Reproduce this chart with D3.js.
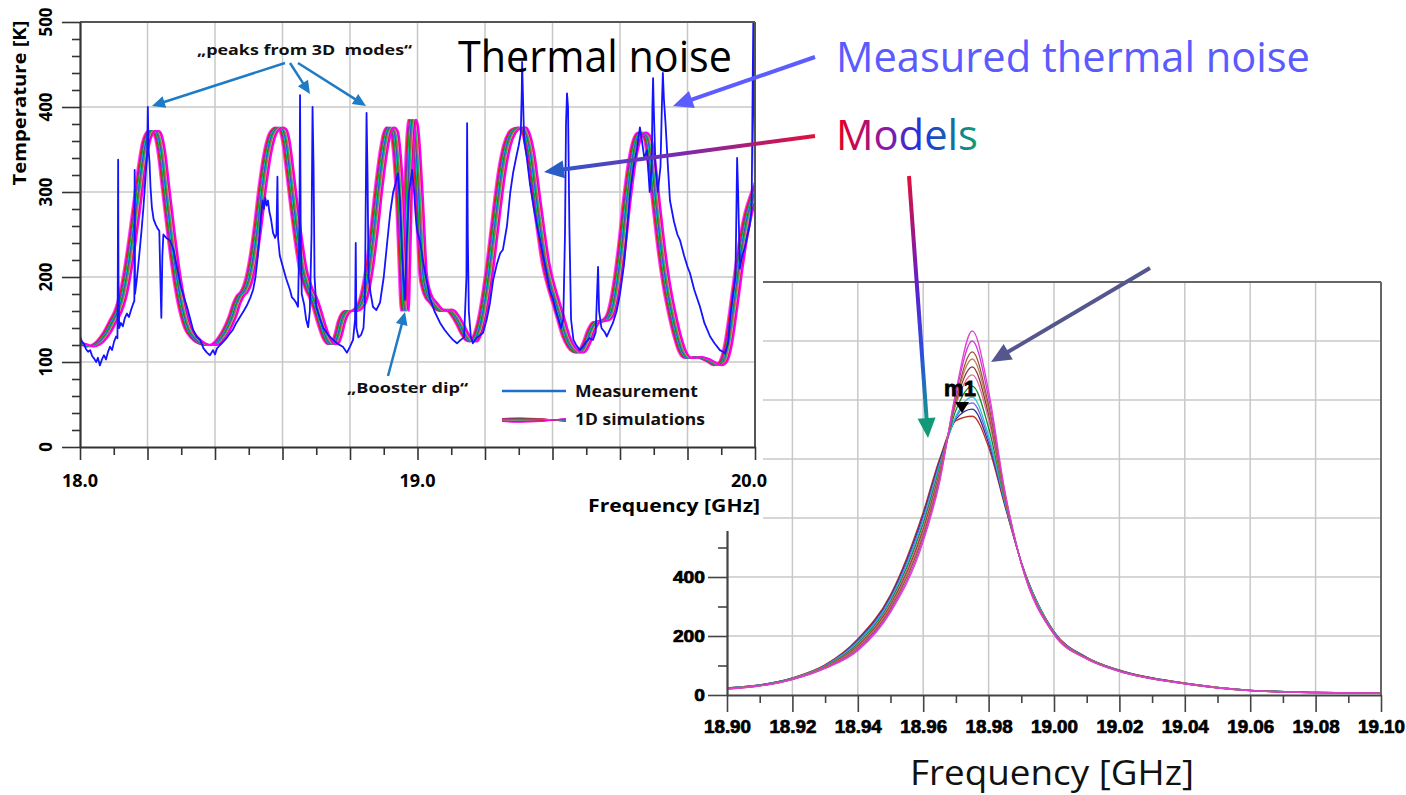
<!DOCTYPE html>
<html><head><meta charset="utf-8">
<script src="https://cdn.jsdelivr.net/npm/d3@7"></script>
<style>body{margin:0;background:#fff}svg{display:block}</style>
</head><body>
<svg id="c" width="1406" height="795"></svg>
<script>
// ===== DATA =====
// Left chart: tick labels
const leftXMajor = [18.0,18.2,18.4,18.6,18.8,19.0,19.2,19.4,19.6,19.8,20.0];
const leftXLabels = [18.0,19.0,20.0];
const leftYMajor = [0,100,200,300,400,500];

// Left chart: measured thermal noise [GHz, K]
const measurement = [
[18.000,130],[18.006,124],[18.012,121],[18.018,115],[18.024,112],[18.030,114],[18.036,107],[18.042,104],[18.048,100],[18.053,105],[18.059,96],[18.065,103],[18.071,108],[18.077,103],[18.083,112],[18.089,118],[18.095,114],[18.101,124],[18.107,130],[18.111,128],[18.112,200],[18.113,338],[18.114,200],[18.116,140],[18.121,146],[18.127,142],[18.133,152],[18.139,157],[18.145,153],[18.151,161],[18.157,168],[18.161,172],[18.162,326],[18.163,180],[18.168,196],[18.173,215],[18.178,236],[18.183,258],[18.188,282],[18.192,305],[18.196,328],[18.199,345],[18.201,400],[18.203,350],[18.206,335],[18.209,305],[18.213,282],[18.218,268],[18.224,262],[18.230,257],[18.235,254],[18.238,200],[18.241,152],[18.244,224],[18.247,250],[18.256,246],[18.267,243],[18.277,232],[18.288,210],[18.298,190],[18.309,175],[18.317,165],[18.327,150],[18.335,138],[18.345,130],[18.356,126],[18.366,116],[18.376,111],[18.385,108],[18.394,114],[18.400,109],[18.406,116],[18.415,120],[18.425,124],[18.436,129],[18.445,134],[18.453,138],[18.463,146],[18.474,153],[18.485,160],[18.495,167],[18.505,176],[18.513,185],[18.520,200],[18.527,225],[18.533,255],[18.537,275],[18.541,290],[18.545,280],[18.549,293],[18.553,284],[18.557,290],[18.561,277],[18.566,268],[18.572,252],[18.578,246],[18.582,250],[18.585,318],[18.587,245],[18.592,225],[18.601,212],[18.611,198],[18.622,185],[18.628,176],[18.633,174],[18.640,170],[18.646,165],[18.650,250],[18.652,414],[18.654,250],[18.657,180],[18.664,168],[18.670,150],[18.676,141],[18.681,160],[18.686,250],[18.689,400],[18.692,330],[18.695,200],[18.700,165],[18.710,152],[18.720,141],[18.735,132],[18.750,126],[18.765,121],[18.779,118],[18.791,111],[18.800,118],[18.809,126],[18.815,150],[18.817,240],[18.819,140],[18.825,129],[18.833,132],[18.840,140],[18.844,170],[18.846,260],[18.849,393],[18.852,320],[18.855,200],[18.861,181],[18.868,165],[18.878,161],[18.889,170],[18.900,200],[18.910,240],[18.919,275],[18.928,300],[18.935,310],[18.942,322],[18.948,290],[18.953,240],[18.958,200],[18.963,173],[18.968,240],[18.975,300],[18.984,326],[18.990,300],[18.995,270],[19.000,252],[19.007,243],[19.015,222],[19.025,200],[19.037,175],[19.050,160],[19.067,146],[19.080,138],[19.096,130],[19.105,126],[19.117,122],[19.128,126],[19.138,129],[19.145,200],[19.147,381],[19.149,250],[19.152,160],[19.158,130],[19.164,122],[19.175,128],[19.186,132],[19.194,134],[19.205,150],[19.215,170],[19.224,196],[19.235,215],[19.245,228],[19.253,232],[19.265,260],[19.275,300],[19.283,322],[19.292,340],[19.300,355],[19.306,369],[19.309,420],[19.310,453],[19.312,420],[19.316,360],[19.324,340],[19.333,310],[19.345,280],[19.355,258],[19.363,244],[19.372,225],[19.382,205],[19.392,185],[19.401,175],[19.410,160],[19.418,150],[19.425,140],[19.432,150],[19.437,250],[19.440,380],[19.443,416],[19.446,400],[19.450,260],[19.455,150],[19.462,126],[19.470,120],[19.481,114],[19.490,118],[19.500,124],[19.510,128],[19.520,126],[19.528,135],[19.532,180],[19.535,212],[19.538,160],[19.545,140],[19.555,135],[19.561,130],[19.570,138],[19.579,146],[19.590,160],[19.600,180],[19.612,215],[19.622,260],[19.630,300],[19.640,330],[19.650,350],[19.659,376],[19.665,360],[19.672,340],[19.680,349],[19.688,300],[19.694,330],[19.696,400],[19.698,434],[19.700,400],[19.705,330],[19.712,300],[19.720,330],[19.724,400],[19.727,440],[19.730,410],[19.735,380],[19.742,330],[19.748,290],[19.760,265],[19.770,250],[19.778,243],[19.790,225],[19.800,212],[19.807,205],[19.820,185],[19.837,165],[19.850,146],[19.867,130],[19.880,122],[19.896,114],[19.905,112],[19.911,110],[19.920,122],[19.926,150],[19.935,180],[19.942,200],[19.945,280],[19.947,340],[19.950,300],[19.955,210],[19.962,225],[19.970,235],[19.978,250],[19.985,262],[19.990,280],[19.993,420],[19.995,502],[19.997,420],[20.000,300]
];

// Left chart: 1D simulation (centre of the bundle) [GHz, K]
const simBase = [
[17.970,124],[18.000,122],[18.015,120],[18.030,118],[18.045,120],[18.059,124],[18.080,135],[18.100,150],[18.113,160],[18.125,175],[18.140,205],[18.155,245],[18.170,290],[18.185,335],[18.195,358],[18.205,369],[18.212,372],[18.222,372],[18.230,368],[18.240,350],[18.255,300],[18.270,250],[18.285,205],[18.300,170],[18.320,140],[18.340,128],[18.360,122],[18.380,120],[18.395,120],[18.410,124],[18.430,135],[18.450,152],[18.465,170],[18.475,178],[18.485,182],[18.495,190],[18.510,215],[18.525,255],[18.540,305],[18.555,345],[18.570,368],[18.580,374],[18.590,376],[18.600,374],[18.610,360],[18.620,330],[18.635,280],[18.650,235],[18.660,210],[18.670,195],[18.680,184],[18.690,176],[18.700,165],[18.715,145],[18.730,128],[18.745,121],[18.755,122],[18.765,132],[18.775,148],[18.785,157],[18.795,160],[18.810,160],[18.825,163],[18.840,175],[18.855,205],[18.870,250],[18.885,305],[18.900,350],[18.910,370],[18.920,376],[18.930,372],[18.940,340],[18.948,290],[18.955,220],[18.960,170],[18.963,160],[18.966,200],[18.972,300],[18.978,360],[18.984,385],[18.990,378],[18.998,340],[19.005,290],[19.010,250],[19.016,205],[19.025,185],[19.035,175],[19.046,170],[19.060,163],[19.076,160],[19.090,162],[19.100,160],[19.110,155],[19.125,145],[19.140,133],[19.155,125],[19.165,124],[19.175,130],[19.190,150],[19.205,185],[19.220,230],[19.235,280],[19.250,325],[19.265,355],[19.280,370],[19.295,375],[19.310,376],[19.320,370],[19.335,345],[19.350,300],[19.365,255],[19.380,215],[19.395,190],[19.410,170],[19.425,150],[19.440,130],[19.455,118],[19.470,112],[19.480,111],[19.490,114],[19.500,122],[19.515,138],[19.530,147],[19.545,148],[19.560,150],[19.575,160],[19.590,190],[19.605,235],[19.620,290],[19.635,335],[19.650,362],[19.665,370],[19.680,365],[19.695,330],[19.710,275],[19.725,225],[19.740,185],[19.755,155],[19.770,130],[19.785,112],[19.800,105],[19.815,105],[19.830,106],[19.850,104],[19.870,100],[19.890,96],[19.905,100],[19.920,120],[19.935,160],[19.950,205],[19.965,245],[19.980,275],[20.000,300],[20.030,330]
];
// frequency offsets of the individual 1D simulations [GHz]
const simShifts = [-0.012,-0.0095,-0.007,-0.0045,-0.002,0.000,0.002,0.0045,0.007,0.0095,0.012];
const simColors = ["#ff40ff","#ff1010","#d000d0","#00a000","#00c8c8","#2040ff","#a06030","#00c060","#ff70c0","#d00030","#ff00ff"];

// Right chart
const rightXTicks = [18.90,18.92,18.94,18.96,18.98,19.00,19.02,19.04,19.06,19.08,19.10];
const rightYTicks = [0,200,400,600,800,1000,1200,1400];
const rightFreq = [18.90,18.92,18.93,18.94,18.95,18.96,18.965,18.97,18.975,18.98,18.985,18.99,19.00,19.01,19.02,19.04,19.06,19.08,19.10];
const model0  = [20,52,90,150,280,520,720,1030,1234,1030,690,445,205,122,80,38,15,8,6];
const model1  = [20,53,91,154,286,530,728,1020,1200,1008,685,446,206,123,80,38,15,8,6];
const model2  = [21,53,92,158,292,540,736,1005,1163,983,680,446,207,123,81,38,15,8,6];
const model3  = [21,54,94,162,298,550,744,1000,1139,968,675,447,208,124,81,39,15,8,6];
const model4  = [22,54,95,166,304,560,752,993,1112,951,670,447,209,124,82,39,15,8,6];
const model5  = [22,55,96,170,310,570,760,984,1085,933,665,448,210,125,82,39,16,8,6];
const model6  = [22,56,97,174,316,580,768,965,1047,906,660,448,211,126,82,39,16,9,6];
const model7  = [23,56,98,178,322,590,776,945,1010,879,655,449,212,126,83,39,16,9,6];
const model8  = [23,57,100,182,328,600,784,941,990,866,650,449,213,127,83,40,16,9,6];
const model9  = [24,57,101,186,334,610,792,935,969,853,645,450,214,127,84,40,16,9,6];
const model10 = [24,58,102,190,340,620,800,930,945,840,640,450,215,128,84,40,16,9,6];
const rightModels = [model0,model1,model2,model3,model4,model5,model6,model7,model8,model9,model10];
const rightColors = ["#e040d0","#c838e0","#a0522d","#c08060","#8b3a3a","#e070a0","#0a8a2a","#20c8d0","#7060e8","#303090","#c03020"];

// ===== DRAW =====
const FONT_C = "'Open Sans','Noto Sans',sans-serif";
const FONT_A = "'Liberation Sans',Arial,sans-serif";
const svg = d3.select('#c');
const defs = svg.append('defs');

// ---------- right chart ----------
const xR = d3.scaleLinear().domain([18.90,19.10]).range([727,1381]);
const yR = d3.scaleLinear().domain([0,1400]).range([695,282]);
const gR = svg.append('g');
gR.selectAll(null).data(rightXTicks.slice(1,-1)).join('line')
  .attr('x1',d=>xR(d)).attr('x2',d=>xR(d)).attr('y1',yR(1400)).attr('y2',yR(0))
  .attr('stroke','#c8c8c8').attr('stroke-width',1.5);
gR.selectAll(null).data(rightYTicks.slice(1,-1)).join('line')
  .attr('x1',xR(18.90)).attr('x2',xR(19.10)).attr('y1',d=>yR(d)).attr('y2',d=>yR(d))
  .attr('stroke','#c8c8c8').attr('stroke-width',1.5);
const lineR = d3.line().x((d,i)=>xR(rightFreq[i])).y(d=>yR(d)).curve(d3.curveMonotoneX);
for (let k = rightModels.length-1; k >= 0; k--) {
  gR.append('path').attr('d',lineR(rightModels[k])).attr('fill','none')
    .attr('stroke',rightColors[k]).attr('stroke-width',1.3);
}
gR.append('line').attr('x1',xR(18.90)).attr('x2',xR(19.10)).attr('y1',yR(1400)).attr('y2',yR(1400)).attr('stroke','#666').attr('stroke-width',2);
gR.append('line').attr('x1',xR(19.10)).attr('x2',xR(19.10)).attr('y1',yR(1400)).attr('y2',yR(0)).attr('stroke','#666').attr('stroke-width',2);

function styleAxis(g, col, w){
  g.select('.domain').attr('stroke',col).attr('stroke-width',w);
  g.selectAll('.tick line').attr('stroke',col).attr('stroke-width',1.6);
}
const axRB = gR.append('g').attr('transform',`translate(0,${yR(0)})`)
  .call(d3.axisBottom(xR).tickValues(rightXTicks).tickSize(17).tickSizeOuter(0).tickFormat(d3.format('.2f')));
styleAxis(axRB,'#444',2.2);
axRB.selectAll('text').attr('y',38).attr('dy',0).attr('font-family',FONT_A).attr('font-weight','bold')
  .attr('font-size',18).attr('fill','#000').attr('stroke','#000').attr('stroke-width',0.7)
  .attr('textLength',47).attr('lengthAdjust','spacingAndGlyphs');
const axRBm = gR.append('g').attr('transform',`translate(0,${yR(0)})`)
  .call(d3.axisBottom(xR).tickValues(rightXTicks.slice(0,-1).map(d=>d+0.01)).tickSize(8).tickSizeOuter(0).tickFormat(''));
styleAxis(axRBm,'#444',0); axRBm.select('.domain').remove();
const axRL = gR.append('g').attr('transform',`translate(${xR(18.90)},0)`)
  .call(d3.axisLeft(yR).tickValues(rightYTicks).tickSize(19).tickSizeOuter(0).tickFormat(d3.format('d')));
styleAxis(axRL,'#444',2.2);
// labels above 400 lie under the left chart and are not visible in the reference
axRL.selectAll('.tick').filter(d=>d>400).select('text').remove();
axRL.selectAll('text').attr('x',-22).attr('font-family',FONT_A).attr('font-weight','bold')
  .attr('font-size',17).attr('fill','#000').attr('stroke','#000').attr('stroke-width',0.7)
  .attr('textLength',function(d){return String(d).length*10.7;}).attr('lengthAdjust','spacingAndGlyphs');
const axRLm = gR.append('g').attr('transform',`translate(${xR(18.90)},0)`)
  .call(d3.axisLeft(yR).tickValues(rightYTicks.slice(0,-1).map(d=>d+100)).tickSize(9).tickSizeOuter(0).tickFormat(''));
styleAxis(axRLm,'#444',0); axRLm.select('.domain').remove();

// m1 marker
gR.append('text').attr('x',960).attr('y',396).attr('text-anchor','middle').attr('font-family',FONT_A)
  .attr('font-weight','bold').attr('font-size',22).attr('fill','#000').attr('stroke','#000').attr('stroke-width',0.8).text('m1');
gR.append('polygon').attr('points','955,402 969,402 962,413').attr('fill','#000');

svg.append('text').attr('x',910).attr('y',785).attr('font-family',FONT_C).attr('font-size',35)
  .attr('fill','#111').attr('textLength',284).attr('lengthAdjust','spacingAndGlyphs').text('Frequency [GHz]');

// ---------- left chart ----------
const xL = d3.scaleLinear().domain([18,20]).range([80,755]);
const yL = d3.scaleLinear().domain([0,500]).range([447,22]);
const gL = svg.append('g');
gL.append('rect').attr('x',0).attr('y',0).attr('width',763).attr('height',531).attr('fill','#fff');
gL.selectAll(null).data(leftXMajor.slice(1,-1)).join('line')
  .attr('x1',d=>xL(d)).attr('x2',d=>xL(d)).attr('y1',yL(500)).attr('y2',yL(0))
  .attr('stroke','#c8c8c8').attr('stroke-width',1.5);
gL.selectAll(null).data(leftYMajor.slice(1,-1)).join('line')
  .attr('x1',xL(18)).attr('x2',xL(20)).attr('y1',d=>yL(d)).attr('y2',d=>yL(d))
  .attr('stroke','#c8c8c8').attr('stroke-width',1.5);
defs.append('clipPath').attr('id','clipL').append('rect')
  .attr('x',xL(18)).attr('y',yL(500)).attr('width',xL(20)-xL(18)).attr('height',yL(0)-yL(500));
const plotL = gL.append('g').attr('clip-path','url(#clipL)');
simShifts.forEach((s,i)=>{
  const ln = d3.line().x(d=>xL(d[0]+s)).y(d=>yL(d[1])).curve(d3.curveMonotoneX);
  plotL.append('path').attr('d',ln(simBase)).attr('fill','none').attr('stroke',simColors[i])
    .attr('stroke-width',(i===0||i===simShifts.length-1)?1.8:1.3);
});
const lineM = d3.line().x(d=>xL(d[0])).y(d=>yL(d[1]));
plotL.append('path').attr('d',lineM(measurement)).attr('fill','none').attr('stroke','#1414ff')
  .attr('stroke-width',1.8).attr('stroke-linejoin','round');

gL.append('line').attr('x1',xL(18)).attr('x2',xL(20)).attr('y1',yL(500)).attr('y2',yL(500)).attr('stroke','#555').attr('stroke-width',2);
gL.append('line').attr('x1',xL(20)).attr('x2',xL(20)).attr('y1',yL(500)).attr('y2',yL(0)).attr('stroke','#555').attr('stroke-width',2);

const axLB = gL.append('g').attr('transform',`translate(0,${yL(0)})`)
  .call(d3.axisBottom(xL).tickValues(leftXMajor).tickSize(13).tickSizeOuter(0).tickFormat(''));
styleAxis(axLB,'#333',2.2);
const axLBm = gL.append('g').attr('transform',`translate(0,${yL(0)})`)
  .call(d3.axisBottom(xL).tickValues(leftXMajor.slice(0,-1).map(d=>d+0.1)).tickSize(8).tickSizeOuter(0).tickFormat(''));
styleAxis(axLBm,'#333',0); axLBm.select('.domain').remove();
gL.selectAll(null).data(leftXLabels).join('text').attr('x',d=>d===20?xL(d)-6:xL(d)).attr('y',487).attr('text-anchor','middle')
  .attr('font-family',FONT_C).attr('font-weight','bold').attr('font-size',18).attr('fill','#000')
  .text(d3.format('.1f'));
const axLL = gL.append('g').attr('transform',`translate(${xL(18)},0)`)
  .call(d3.axisLeft(yL).tickValues(leftYMajor).tickSize(18).tickSizeOuter(0).tickFormat(''));
styleAxis(axLL,'#333',2.2);
const axLLm = gL.append('g').attr('transform',`translate(${xL(18)},0)`)
  .call(d3.axisLeft(yL).tickValues(d3.range(0,500,20).filter(d=>d%100!==0)).tickSize(8).tickSizeOuter(0).tickFormat(''));
styleAxis(axLLm,'#333',0); axLLm.select('.domain').remove();
gL.selectAll(null).data(leftYMajor).join('text')
  .attr('transform',d=>`translate(52,${yL(d)}) rotate(-90)`).attr('text-anchor','middle')
  .attr('font-family',FONT_C).attr('font-weight','bold').attr('font-size',17).attr('fill','#000').text(d=>d);
gL.append('text').attr('transform','translate(26,103) rotate(-90)').attr('text-anchor','middle')
  .attr('font-family',FONT_C).attr('font-weight','bold').attr('font-size',17).attr('fill','#000')
  .attr('textLength',165).attr('lengthAdjust','spacingAndGlyphs').text('Temperature [K]');
gL.append('text').attr('x',588).attr('y',512)
  .attr('font-family',FONT_C).attr('font-weight','bold').attr('font-size',17).attr('fill','#000')
  .attr('textLength',172).attr('lengthAdjust','spacingAndGlyphs').text('Frequency [GHz]');

// legend
gL.append('line').attr('x1',502).attr('x2',566).attr('y1',391).attr('y2',391).attr('stroke','#1a72c8').attr('stroke-width',2.5);
gL.append('text').attr('x',575).attr('y',397).attr('font-family',FONT_C).attr('font-weight','bold')
  .attr('font-size',16).attr('fill','#111').attr('textLength',123).attr('lengthAdjust','spacingAndGlyphs').text('Measurement');
simColors.forEach((c,i)=>{
  const off = (i-5)*0.5;
  gL.append('path').attr('d',`M502,${420+off*0.6} Q534,${420+off*1.4} 566,${420-off*0.6}`)
    .attr('fill','none').attr('stroke',c).attr('stroke-width',1.2);
});
gL.append('text').attr('x',575).attr('y',425).attr('font-family',FONT_C).attr('font-weight','bold')
  .attr('font-size',16).attr('fill','#111').attr('textLength',130).attr('lengthAdjust','spacingAndGlyphs').text('1D simulations');

// ---------- annotations ----------
const gA = svg.append('g');
function arrow(x1,y1,x2,y2,o){
  const dx=x2-x1, dy=y2-y1, len=Math.hypot(dx,dy), ux=dx/len, uy=dy/len;
  const bx=x2-ux*o.L, by=y2-uy*o.L;
  gA.append('line').attr('x1',x1).attr('y1',y1).attr('x2',bx+ux).attr('y2',by+uy)
    .attr('stroke',o.stroke).attr('stroke-width',o.w);
  gA.append('polygon').attr('points',[[x2,y2],[bx-uy*o.W,by+ux*o.W],[bx+uy*o.W,by-ux*o.W]].map(p=>p.join(',')).join(' '))
    .attr('fill',o.head);
}
const blueA = {stroke:'#1f7bc4',head:'#1f7bc4',w:2.5,L:13,W:6};
gA.append('text').attr('x',197).attr('y',55).attr('font-family',FONT_C).attr('font-weight','bold')
  .attr('font-size',15).attr('fill','#111').style('white-space','pre')
  .attr('textLength',215).attr('lengthAdjust','spacingAndGlyphs').text('\u201Epeaks from 3D  modes\u201C');
arrow(285,63,152,106,blueA);
arrow(290,63,310,94,blueA);
arrow(298,63,366,106,blueA);
gA.append('text').attr('x',347).attr('y',393).attr('font-family',FONT_C).attr('font-weight','bold')
  .attr('font-size',15).attr('fill','#111')
  .attr('textLength',121).attr('lengthAdjust','spacingAndGlyphs').text('\u201EBooster dip\u201C');
arrow(388,376,405,312,blueA);

gA.append('text').attr('x',458).attr('y',72).attr('font-family',FONT_C).attr('font-size',44)
  .attr('fill','#000').attr('textLength',274).attr('lengthAdjust','spacingAndGlyphs').text('Thermal noise');
gA.append('text').attr('x',836).attr('y',72).attr('font-family',FONT_C).attr('font-size',42)
  .attr('fill','#5a5aff').attr('textLength',474).attr('lengthAdjust','spacingAndGlyphs').text('Measured thermal noise');
const mg = defs.append('linearGradient').attr('id','modelsGrad').attr('x1','0').attr('x2','1').attr('y1','0').attr('y2','0');
[['0%','#e8001c'],['35%','#8a1aa8'],['60%','#2030e0'],['100%','#10a070']].forEach(s=>mg.append('stop').attr('offset',s[0]).attr('stop-color',s[1]));
gA.append('text').attr('x',836).attr('y',150).attr('font-family',FONT_C).attr('font-size',42)
  .attr('fill','url(#modelsGrad)').attr('textLength',142).attr('lengthAdjust','spacingAndGlyphs').text('Models');

arrow(815,57,673,106,{stroke:'#5c5cff',head:'#5c5cff',w:4,L:20,W:9});
const g1 = defs.append('linearGradient').attr('id','arrG1').attr('gradientUnits','userSpaceOnUse')
  .attr('x1',815).attr('y1',136).attr('x2',548).attr('y2',171);
[['0%','#e0103a'],['50%','#7a2ab0'],['100%','#2a5ad0']].forEach(s=>g1.append('stop').attr('offset',s[0]).attr('stop-color',s[1]));
arrow(815,136,544,172,{stroke:'url(#arrG1)',head:'#2a5cc8',w:4,L:20,W:9});
const g2 = defs.append('linearGradient').attr('id','arrG2').attr('gradientUnits','userSpaceOnUse')
  .attr('x1',909).attr('y1',176).attr('x2',927).attr('y2',430);
[['0%','#e0103a'],['45%','#5a20d0'],['70%','#2a50e0'],['100%','#10a080']].forEach(s=>g2.append('stop').attr('offset',s[0]).attr('stop-color',s[1]));
arrow(909,176,928,438,{stroke:'url(#arrG2)',head:'#129a78',w:4,L:20,W:9});
arrow(1150,268,991,362,{stroke:'#56568f',head:'#56568f',w:4,L:20,W:9});
</script>
</body></html>
